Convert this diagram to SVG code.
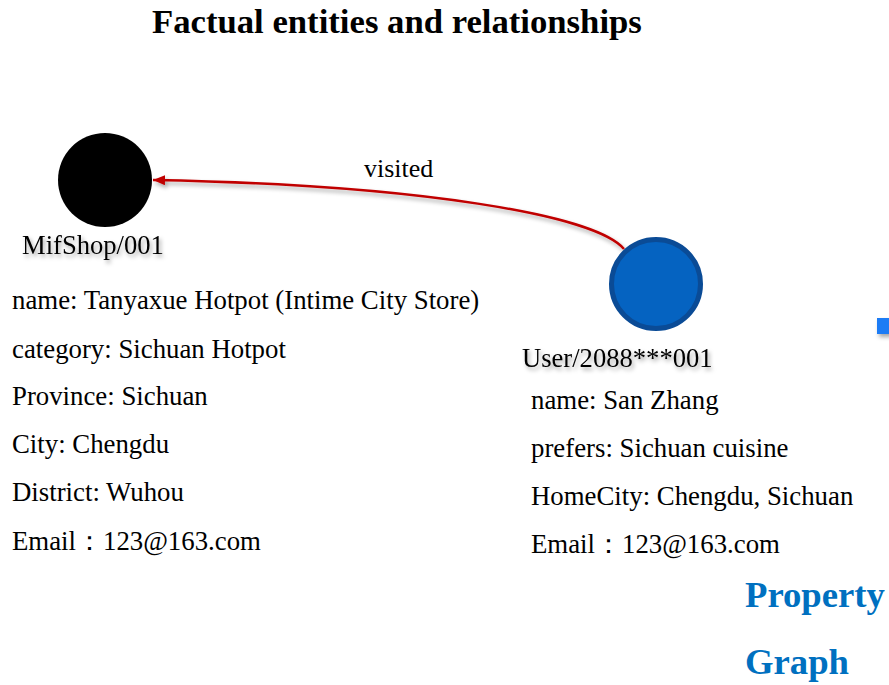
<svg xmlns="http://www.w3.org/2000/svg" width="889" height="685" viewBox="0 0 889 685">
  <defs>
    <filter id="shadow" x="-20%" y="-40%" width="140%" height="200%">
      <feDropShadow dx="2" dy="3" stdDeviation="2" flood-color="#000" flood-opacity="0.35"/>
    </filter>
    <marker id="arrow" viewBox="0 0 12 10" refX="12" refY="5" markerWidth="12" markerHeight="10" markerUnits="userSpaceOnUse" orient="auto">
      <path d="M0,0 L12,5 L0,10 Z" fill="#C00000"/>
    </marker>
    <style>
      text { font-family: "Liberation Serif", "Times New Roman", serif; fill: #000; }
      .title { font-size: 34.7px; font-weight: bold; }
      .label { font-size: 26.6px; filter: url(#shadow); }
      .prop { font-size: 26.8px; }
      .edge { fill: none; stroke: #C00000; stroke-width: 2.5; }
      .big { font-size: 36.7px; font-weight: bold; fill: #0070C0; }
    </style>
  </defs>

  <rect width="889" height="685" fill="#fff"/>

  <text class="title" x="152" y="33">Factual entities and relationships</text>

  <g id="connectors">
    <path class="edge" d="M 624,249 C 595,215 420,185 153,180" marker-end="url(#arrow)" filter="url(#shadow)"/>
    <text class="prop" x="364" y="177" style="font-size:26px">visited</text>
  </g>

  <g id="shop">
    <circle cx="105" cy="180" r="47" fill="#000"/>
    <text class="label" x="22" y="254">MifShop/001</text>
    <text class="prop" x="12" y="309">name: Tanyaxue Hotpot (Intime City Store)</text>
    <text class="prop" x="12" y="358">category: Sichuan Hotpot</text>
    <text class="prop" x="12" y="405">Province: Sichuan</text>
    <text class="prop" x="12" y="453">City: Chengdu</text>
    <text class="prop" x="12" y="501">District: Wuhou</text>
    <text class="prop" x="12" y="550">Email：123@163.com</text>
  </g>

  <g id="user">
    <circle cx="656" cy="284" r="44.5" fill="#0563C1" stroke="#0A4B96" stroke-width="5"/>
    <text class="label" x="522" y="367">User/2088***001</text>
    <text class="prop" x="531" y="409">name: San Zhang</text>
    <text class="prop" x="531" y="457">prefers: Sichuan cuisine</text>
    <text class="prop" x="531" y="505">HomeCity: Chengdu, Sichuan</text>
    <text class="prop" x="531" y="553">Email：123@163.com</text>
  </g>

  <g id="marker-block">
    <rect x="877" y="318" width="14" height="16" fill="#1F7BF5" filter="url(#shadow)"/>
  </g>

  <g id="caption">
    <text class="big" x="745" y="607">Property</text>
    <text class="big" x="745" y="674">Graph</text>
  </g>
</svg>
